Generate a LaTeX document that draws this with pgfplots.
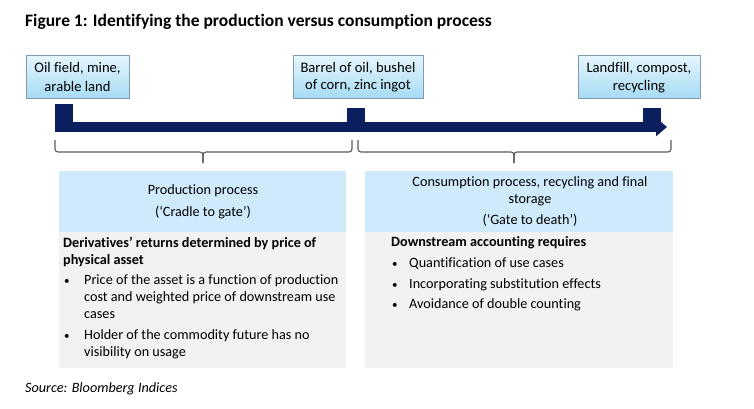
\documentclass[border=0pt]{standalone}
\usepackage{pgfplots}
\pgfplotsset{compat=1.18}
\usepackage{fontspec}
\setmainfont{Carlito}[Ligatures={NoCommon}]
\usetikzlibrary{arrows.meta}
\definecolor{navy}{HTML}{0B1F5E}
\definecolor{hdr}{HTML}{CFEBFB}
\definecolor{bodyc}{HTML}{F2F2F2}
\definecolor{boxtop}{HTML}{E6F6FD}
\definecolor{boxbot}{HTML}{A6DBF4}
\definecolor{boxedge}{HTML}{7F9CB0}
\definecolor{bracec}{HTML}{595959}
\newcommand{\tf}{\fontsize{14.2}{17}\selectfont}
\newcommand{\bxf}{\fontsize{14.6}{17}\selectfont}
\newcommand{\blt}{\fontsize{11}{13}\selectfont}
\begin{document}
\begin{tikzpicture}
\begin{axis}[x=1pt,y=1pt,y dir=reverse,xmin=0,xmax=754,ymin=0,ymax=408,
  hide axis,clip=false]
\path (axis cs:0,0) rectangle (axis cs:754,408);
% lower panels
\addplot[draw=none,fill=hdr] coordinates {(59,171)(346,171)(346,232)(59,232)} --cycle;
\addplot[draw=none,fill=bodyc] coordinates {(59,232)(346,232)(346,368)(59,368)} --cycle;
\addplot[draw=none,fill=hdr] coordinates {(365,171)(673,171)(673,232)(365,232)} --cycle;
\addplot[draw=none,fill=bodyc] coordinates {(365,232)(673,232)(673,368)(365,368)} --cycle;
% top boxes
\addplot[draw=boxedge,top color=boxtop,bottom color=boxbot] coordinates {(26,55)(129,55)(129,98)(26,98)} --cycle;
\addplot[draw=boxedge,top color=boxtop,bottom color=boxbot] coordinates {(293,55)(423,55)(423,98)(293,98)} --cycle;
\addplot[draw=boxedge,top color=boxtop,bottom color=boxbot] coordinates {(578,55)(700,55)(700,98)(578,98)} --cycle;
% timeline
\addplot[navy,line width=10pt,-{Triangle[length=11pt,width=18pt]}] coordinates {(55,127)(667,127)};
\addplot[draw=none,fill=navy] coordinates {(55,104)(73,104)(73,131)(55,131)} --cycle;
\addplot[draw=none,fill=navy] coordinates {(347,108)(365,108)(365,131)(347,131)} --cycle;
\addplot[draw=none,fill=navy] coordinates {(643,108)(661,108)(661,131)(643,131)} --cycle;
% braces
\addplot[bracec,line width=1.1pt,rounded corners=3pt] coordinates {(55,140)(55,152)(203,152)(203,163)};
\addplot[bracec,line width=1.1pt,rounded corners=3pt] coordinates {(203,163)(203,152)(352,152)(352,140)};
\addplot[bracec,line width=1.1pt,rounded corners=3pt] coordinates {(358,140)(358,152)(514,152)(514,163)};
\addplot[bracec,line width=1.1pt,rounded corners=3pt] coordinates {(514,163)(514,152)(671,152)(671,140)};
% title
\node[anchor=west,font=\fontsize{17.5}{20}\selectfont\bfseries,inner sep=0pt] at (axis cs:25,22) {Figure 1: Identifying the production versus consumption process};
% box texts
\node[font=\bxf,inner sep=0pt] at (axis cs:77.5,68) {Oil field, mine,};
\node[font=\bxf,inner sep=0pt] at (axis cs:77.5,86) {arable land};
\node[font=\bxf,inner sep=0pt] at (axis cs:358,68) {Barrel of oil, bushel};
\node[font=\bxf,inner sep=0pt] at (axis cs:358,86) {of corn, zinc ingot};
\node[font=\bxf,inner sep=0pt] at (axis cs:639,69) {Landfill, compost,};
\node[font=\bxf,inner sep=0pt] at (axis cs:639,87) {recycling};
% left header
\node[font=\tf,inner sep=0pt] at (axis cs:203,191) {Production process};
\node[font=\tf,inner sep=0pt] at (axis cs:203,213) {(‘Cradle to gate’)};
% left body
\node[anchor=west,font=\tf\bfseries,inner sep=0pt] at (axis cs:63,243) {Derivatives’ returns determined by price of};
\node[anchor=west,font=\tf\bfseries,inner sep=0pt] at (axis cs:63,261) {physical asset};
\node[anchor=west,font=\blt,inner sep=0pt] at (axis cs:64,282) {•};
\node[anchor=west,font=\tf,inner sep=0pt] at (axis cs:84,281) {Price of the asset is a function of production};
\node[anchor=west,font=\tf,inner sep=0pt] at (axis cs:84,298) {cost and weighted price of downstream use};
\node[anchor=west,font=\tf,inner sep=0pt] at (axis cs:84,315) {cases};
\node[anchor=west,font=\blt,inner sep=0pt] at (axis cs:64,337) {•};
\node[anchor=west,font=\tf,inner sep=0pt] at (axis cs:84,336) {Holder of the commodity future has no};
\node[anchor=west,font=\tf,inner sep=0pt] at (axis cs:84,353) {visibility on usage};
% right header
\node[font=\tf,inner sep=0pt] at (axis cs:530,183) {Consumption process, recycling and final};
\node[font=\tf,inner sep=0pt] at (axis cs:530,200) {storage};
\node[font=\tf,inner sep=0pt] at (axis cs:530,220) {(‘Gate to death’)};
% right body
\node[anchor=west,font=\tf\bfseries,inner sep=0pt] at (axis cs:391,243) {Downstream accounting requires};
\node[anchor=west,font=\blt,inner sep=0pt] at (axis cs:392,265) {•};
\node[anchor=west,font=\tf,inner sep=0pt] at (axis cs:409,264) {Quantification of use cases};
\node[anchor=west,font=\blt,inner sep=0pt] at (axis cs:392,286) {•};
\node[anchor=west,font=\tf,inner sep=0pt] at (axis cs:409,285) {Incorporating substitution effects};
\node[anchor=west,font=\blt,inner sep=0pt] at (axis cs:392,306) {•};
\node[anchor=west,font=\tf,inner sep=0pt] at (axis cs:409,305) {Avoidance of double counting};
% source
\node[anchor=west,font=\tf\itshape,inner sep=0pt] at (axis cs:25,389) {Source: Bloomberg Indices};
\end{axis}
\end{tikzpicture}
\end{document}
